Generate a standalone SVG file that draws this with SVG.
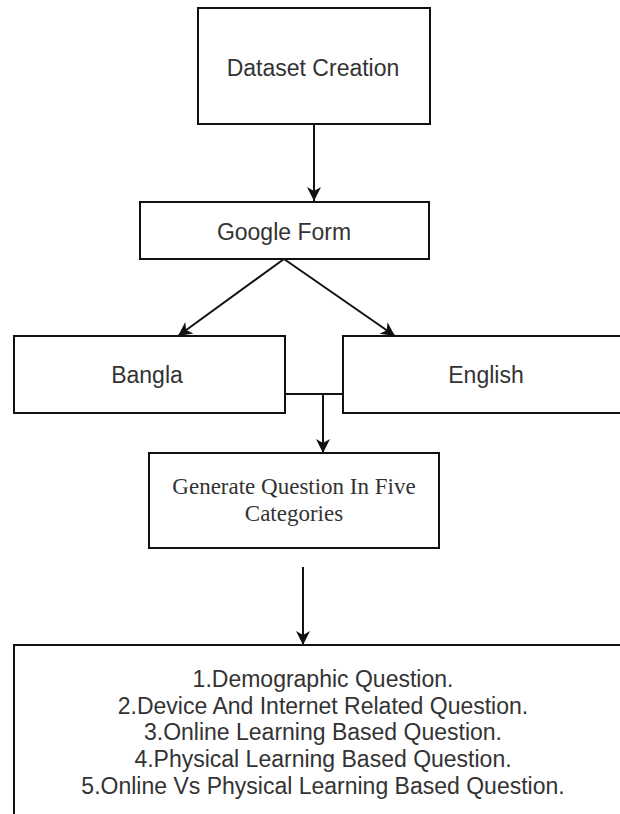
<svg xmlns="http://www.w3.org/2000/svg" width="620" height="814" viewBox="0 0 620 814">
<style>
.box{fill:#fff;stroke:#111;stroke-width:2}
.lbl{font-family:"Liberation Sans",Arial,sans-serif;font-size:23px;fill:#333;text-anchor:middle}
.ser{font-family:"Liberation Serif","Times New Roman",serif;font-size:23px;fill:#333;text-anchor:middle}
.edge{fill:none;stroke:#111;stroke-width:2}
</style>
<defs>
<marker id="arr" markerUnits="userSpaceOnUse" markerWidth="16" markerHeight="16" viewBox="0 0 16 16" refX="15" refY="8" orient="auto">
<path d="M1,1 L15,8 L1,15 L5,8 z" fill="#111"/>
</marker>
</defs>
<rect width="620" height="814" fill="#fff"/>
<g id="connectors">
<line class="edge" x1="314" y1="124" x2="314" y2="201" marker-end="url(#arr)"/>
<line class="edge" x1="284" y1="259" x2="178" y2="336" marker-end="url(#arr)"/>
<line class="edge" x1="284" y1="259" x2="395" y2="336" marker-end="url(#arr)"/>
<polyline class="edge" points="285,394 343,394"/>
<line class="edge" x1="323" y1="394" x2="323" y2="453" marker-end="url(#arr)"/>
<line class="edge" x1="303" y1="567" x2="303" y2="645" marker-end="url(#arr)"/>
</g>
<g id="dataset">
<rect class="box" x="198" y="8" width="232" height="116"/>
<text class="lbl" x="313" y="76">Dataset Creation</text>
</g>
<g id="googleform">
<rect class="box" x="140" y="202" width="289" height="57"/>
<text class="lbl" x="284" y="240">Google Form</text>
</g>
<g id="bangla">
<rect class="box" x="14" y="336" width="271" height="77"/>
<text class="lbl" x="147" y="383">Bangla</text>
</g>
<g id="english">
<rect class="box" x="343" y="336" width="290" height="77"/>
<text class="lbl" x="486" y="383">English</text>
</g>
<g id="generate">
<rect class="box" x="149" y="453" width="290" height="95"/>
<text class="ser" x="294" y="494">Generate Question In Five</text>
<text class="ser" x="294" y="521">Categories</text>
</g>
<g id="questions">
<rect class="box" x="14" y="645" width="620" height="180"/>
<text class="lbl" x="323" y="687">1.Demographic Question.</text>
<text class="lbl" x="323" y="714">2.Device And Internet Related Question.</text>
<text class="lbl" x="323" y="740">3.Online Learning Based Question.</text>
<text class="lbl" x="323" y="767">4.Physical Learning Based Question.</text>
<text class="lbl" x="323" y="794">5.Online Vs Physical Learning Based Question.</text>
</g>
</svg>
